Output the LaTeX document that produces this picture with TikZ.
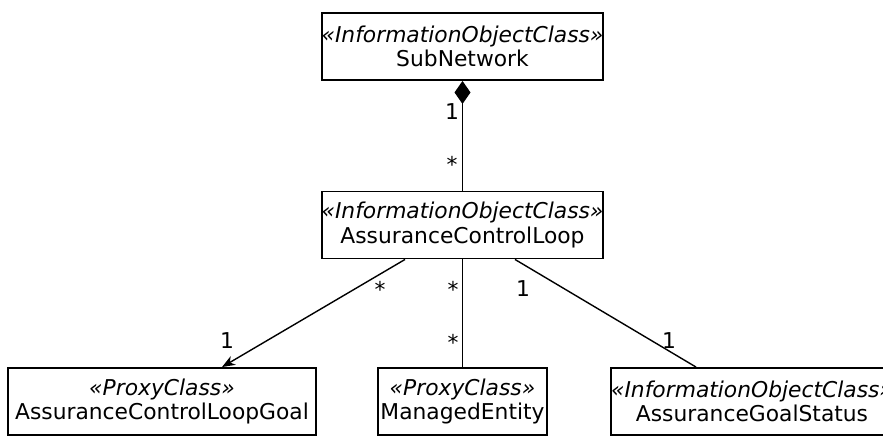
\documentclass[tikz,border=0pt]{standalone}
\usepackage{fontspec}
\setmainfont{DejaVu Sans}
\usetikzlibrary{arrows.meta,calc}
\tikzset{
  cls/.style={draw=black, line width=1.9pt, fill=white, align=center, inner sep=0pt,
    minimum height=67pt, font=\fontsize{21.8}{24.5}\selectfont},
  conn/.style={draw=black, line width=1.4pt},
  mult/.style={anchor=base, inner sep=0pt, font=\fontsize{21.8}{24}\selectfont}
}
\begin{document}
\begin{tikzpicture}[x=1pt,y=-1pt]
\useasboundingbox (0,0) rectangle (883,437);
\node[cls, minimum width=281pt] (sub) at (462.5,46.5) {\textit{«InformationObjectClass»}\\SubNetwork};
\node[cls, minimum width=281pt] (acl) at (462.5,225) {\textit{«InformationObjectClass»}\\AssuranceControlLoop};
\node[cls, minimum width=308pt] (goal) at (162,401.5) {\textit{«ProxyClass»}\\AssuranceControlLoopGoal};
\node[cls, minimum width=169pt] (me) at (462.5,401.5) {\textit{«ProxyClass»}\\ManagedEntity};
\node[cls, minimum width=282pt] (ags) at (752,401.5) {\textit{«InformationObjectClass»}\\AssuranceGoalStatus};
\draw[conn, {Diamond[length=23pt,width=16pt,fill=black]}-] (sub.south) -- (acl.north);
\draw[conn, -{Stealth[length=13pt,width=10pt,inset=4pt]}] ($(acl.south)+(-57.5,0)$) -- ($(goal.north)+(60,0)$);
\draw[conn] (acl.south) -- (me.north);
\draw[conn] ($(acl.south)+(52.5,0)$) -- ($(ags.north)+(-56,0)$);
\node[mult] (m1) at (452,119) {1};
\node[mult] (m2) at (452,172) {*};
\node[mult] (m3) at (380,297) {*};
\node[mult] (m4) at (453,297) {*};
\node[mult] (m5) at (523,296) {1};
\node[mult] (m6) at (227,348) {1};
\node[mult] (m7) at (453,350) {*};
\node[mult] (m8) at (669,348) {1};
\end{tikzpicture}
\end{document}
